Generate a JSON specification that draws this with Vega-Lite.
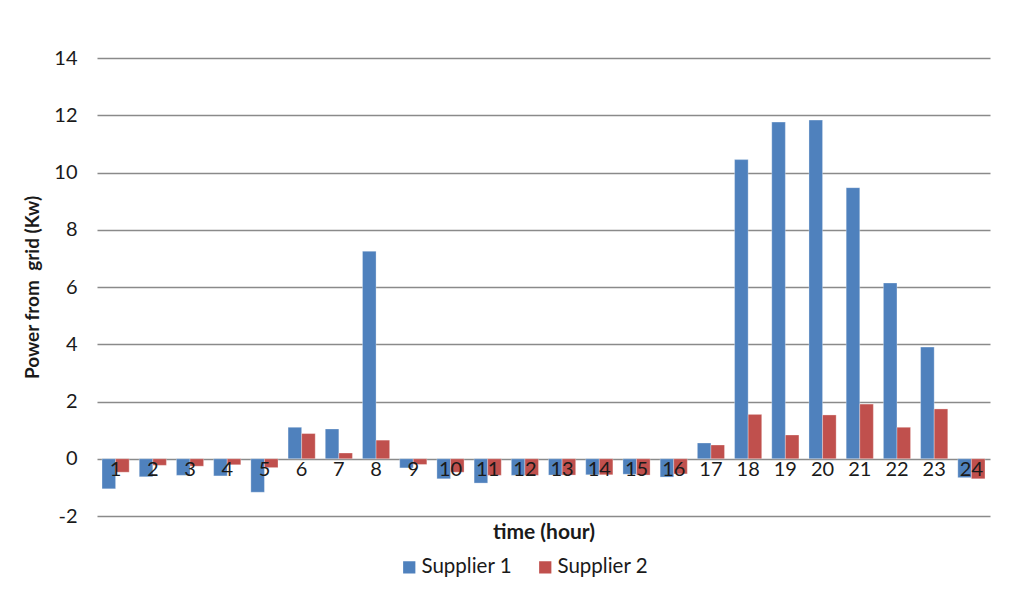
{
  "$schema": "https://vega.github.io/schema/vega-lite/v6.json",
  "autosize": "none",
  "width": 893,
  "height": 458,
  "padding": {"left": 97, "top": 58, "right": 38, "bottom": 89},
  "background": "white",
  "data": {
    "values": [
      {"hour": 1, "supplier": "Supplier 1", "power": -1.05},
      {"hour": 2, "supplier": "Supplier 1", "power": -0.63},
      {"hour": 3, "supplier": "Supplier 1", "power": -0.58},
      {"hour": 4, "supplier": "Supplier 1", "power": -0.6},
      {"hour": 5, "supplier": "Supplier 1", "power": -1.17},
      {"hour": 6, "supplier": "Supplier 1", "power": 1.1},
      {"hour": 7, "supplier": "Supplier 1", "power": 1.04},
      {"hour": 8, "supplier": "Supplier 1", "power": 7.25},
      {"hour": 9, "supplier": "Supplier 1", "power": -0.32},
      {"hour": 10, "supplier": "Supplier 1", "power": -0.7},
      {"hour": 11, "supplier": "Supplier 1", "power": -0.85},
      {"hour": 12, "supplier": "Supplier 1", "power": -0.58},
      {"hour": 13, "supplier": "Supplier 1", "power": -0.57},
      {"hour": 14, "supplier": "Supplier 1", "power": -0.56},
      {"hour": 15, "supplier": "Supplier 1", "power": -0.54},
      {"hour": 16, "supplier": "Supplier 1", "power": -0.64},
      {"hour": 17, "supplier": "Supplier 1", "power": 0.55},
      {"hour": 18, "supplier": "Supplier 1", "power": 10.45},
      {"hour": 19, "supplier": "Supplier 1", "power": 11.76},
      {"hour": 20, "supplier": "Supplier 1", "power": 11.83},
      {"hour": 21, "supplier": "Supplier 1", "power": 9.47},
      {"hour": 22, "supplier": "Supplier 1", "power": 6.14},
      {"hour": 23, "supplier": "Supplier 1", "power": 3.9},
      {"hour": 24, "supplier": "Supplier 1", "power": -0.66},
      {"hour": 1, "supplier": "Supplier 2", "power": -0.47},
      {"hour": 2, "supplier": "Supplier 2", "power": -0.23},
      {"hour": 3, "supplier": "Supplier 2", "power": -0.26},
      {"hour": 4, "supplier": "Supplier 2", "power": -0.21},
      {"hour": 5, "supplier": "Supplier 2", "power": -0.31},
      {"hour": 6, "supplier": "Supplier 2", "power": 0.88},
      {"hour": 7, "supplier": "Supplier 2", "power": 0.2},
      {"hour": 8, "supplier": "Supplier 2", "power": 0.65},
      {"hour": 9, "supplier": "Supplier 2", "power": -0.2},
      {"hour": 10, "supplier": "Supplier 2", "power": -0.47},
      {"hour": 11, "supplier": "Supplier 2", "power": -0.58},
      {"hour": 12, "supplier": "Supplier 2", "power": -0.58},
      {"hour": 13, "supplier": "Supplier 2", "power": -0.57},
      {"hour": 14, "supplier": "Supplier 2", "power": -0.56},
      {"hour": 15, "supplier": "Supplier 2", "power": -0.57},
      {"hour": 16, "supplier": "Supplier 2", "power": -0.53},
      {"hour": 17, "supplier": "Supplier 2", "power": 0.48},
      {"hour": 18, "supplier": "Supplier 2", "power": 1.55},
      {"hour": 19, "supplier": "Supplier 2", "power": 0.83},
      {"hour": 20, "supplier": "Supplier 2", "power": 1.53},
      {"hour": 21, "supplier": "Supplier 2", "power": 1.91},
      {"hour": 22, "supplier": "Supplier 2", "power": 1.1},
      {"hour": 23, "supplier": "Supplier 2", "power": 1.74},
      {"hour": 24, "supplier": "Supplier 2", "power": -0.7}
    ]
  },
  "mark": {"type": "bar", "stroke": "#ffffff", "strokeOpacity": 0.3, "strokeWidth": 1},
  "encoding": {
    "x": {
      "field": "hour",
      "type": "ordinal",
      "scale": {"paddingInner": 0.27, "paddingOuter": 0.135},
      "axis": {
        "title": "time (hour)",
        "zindex": 1,
        "offset": -57.2,
        "domain": false,
        "ticks": false,
        "grid": false,
        "labelAngle": 0,
        "labelPadding": 1,
        "labelFont": "Lato",
        "labelFontSize": 20,
        "labelColor": "#1a1a1a",
        "titleFont": "Lato",
        "titleFontSize": 21,
        "titleFontWeight": "bold",
        "titleColor": "#1a1a1a",
        "titlePadding": 42
      }
    },
    "xOffset": {
      "field": "supplier",
      "type": "nominal",
      "scale": {"paddingInner": 0, "paddingOuter": 0}
    },
    "y": {
      "field": "power",
      "type": "quantitative",
      "scale": {"domain": [-2, 14], "nice": false, "zero": false},
      "axis": {
        "title": "Power from\u00a0 grid (Kw)",
        "values": [-2, 0, 2, 4, 6, 8, 10, 12, 14],
        "labelExpr": "replace(datum.label, '\u2212', '-')",
        "domain": false,
        "ticks": false,
        "labelPadding": 20,
        "labelFont": "Lato",
        "labelFontSize": 20,
        "labelColor": "#1a1a1a",
        "titleFont": "Lato",
        "titleFontSize": 19,
        "titleFontWeight": "bold",
        "titleColor": "#1a1a1a",
        "titlePadding": 11,
        "grid": true,
        "gridColor": "#8a8a8a",
        "gridWidth": 1.3
      }
    },
    "color": {
      "field": "supplier",
      "type": "nominal",
      "scale": {"domain": ["Supplier 1", "Supplier 2"], "range": ["#4f81bd", "#c0504d"]},
      "legend": {
        "title": null,
        "orient": "none",
        "direction": "horizontal",
        "legendX": 302,
        "legendY": 499,
        "symbolType": "square",
        "symbolSize": 150,
        "symbolStrokeWidth": 0,
        "labelFont": "Lato",
        "labelFontSize": 20.5,
        "labelColor": "#1a1a1a",
        "labelOffset": 2,
        "columnPadding": 22
      }
    }
  },
  "config": {
    "view": {"stroke": null}
  }
}
